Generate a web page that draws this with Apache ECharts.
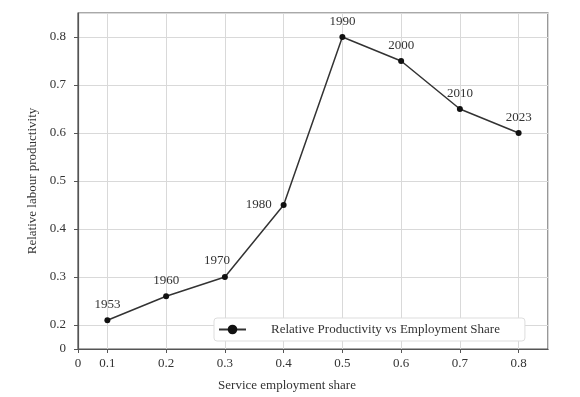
<!DOCTYPE html>
<html>
<head>
<meta charset="utf-8">
<script src="https://cdn.jsdelivr.net/npm/echarts@6/dist/echarts.min.js"></script>
<style>
    html, body { margin: 0; padding: 0; background: #fff; }
    #main { width: 580px; height: 397px; }
</style>
</head>
<body>
<div id="main"></div>
<script>
var years = ['1953', '1960', '1970', '1980', '1990', '2000', '2010', '2023'];
var employmentShare = [0.1, 0.2, 0.3, 0.4, 0.5, 0.6, 0.7, 0.8];
var relativeProductivity = [0.21, 0.26, 0.30, 0.45, 0.80, 0.75, 0.65, 0.60];

// 部分年份标签位置单独调整
var labelTweak = {
    '1970': { position: 'top', offset: [-8, -1] },
    '1980': { position: 'left', distance: 9 }
};

var font = 'Liberation Serif';

var seriesData = [];
years.forEach(function (y, i) {
    var item = { value: [employmentShare[i], relativeProductivity[i]], name: y };
    if (labelTweak[y]) {
        item.label = labelTweak[y];
    }
    seriesData.push(item);
});

// 坐标轴起点显示为 0，终点不显示
function tickLabel(lo, hi) {
    return function (v) {
        if (Math.abs(v - lo) < 1e-6) return '0';
        if (Math.abs(v - hi) < 1e-6) return '';
        return v.toFixed(1);
    };
}

var myChart = echarts.init(document.getElementById('main'));

var option = {
    animation: false,
    textStyle: { fontFamily: font },
    grid: {
        left: 78,
        right: 32,
        top: 13,
        bottom: 45,
        show: true,
        borderColor: '#555',
        borderWidth: 1.2,
        backgroundColor: 'transparent'
    },
    legend: {
        left: 214,
        top: 318,
        padding: [5, 25, 5, 4],
        backgroundColor: '#fff',
        borderColor: '#ddd',
        borderWidth: 1,
        borderRadius: 3,
        itemWidth: 27,
        itemHeight: 12,
        textStyle: {
            fontFamily: font,
            fontSize: 13,
            color: '#333',
            padding: [0, 0, 0, 20]
        },
        data: ['Relative Productivity vs Employment Share']
    },
    xAxis: {
        type: 'value',
        min: 0.05,
        max: 0.85,
        minInterval: 0.1,
        maxInterval: 0.1,
        name: 'Service employment share',
        nameLocation: 'middle',
        nameGap: 30,
        nameTextStyle: { fontFamily: font, fontSize: 13, color: '#333', padding: [0, 52, 0, 0] },
        axisLine: { lineStyle: { color: '#555', width: 1.2 } },
        axisTick: { show: true, length: 4, lineStyle: { color: '#555' } },
        axisLabel: {
            margin: 8,
            fontFamily: font,
            fontSize: 13,
            color: '#333',
            showMaxLabel: false,
            formatter: tickLabel(0.05, 0.85)
        },
        splitLine: { show: true, lineStyle: { color: '#d9d9d9', width: 1 } }
    },
    yAxis: {
        type: 'value',
        min: 0.15,
        max: 0.85,
        minInterval: 0.1,
        maxInterval: 0.1,
        name: 'Relative labour productivity',
        nameLocation: 'middle',
        nameGap: 35,
        nameTextStyle: { fontFamily: font, fontSize: 13, color: '#333' },
        axisLine: { show: true, lineStyle: { color: '#555', width: 1.2 } },
        axisTick: { show: true, length: 4, lineStyle: { color: '#555' } },
        axisLabel: {
            margin: 12,
            fontFamily: font,
            fontSize: 13,
            color: '#333',
            showMaxLabel: false,
            formatter: tickLabel(0.15, 0.85)
        },
        splitLine: { show: true, lineStyle: { color: '#d9d9d9', width: 1 } }
    },
    series: [
        {
            name: 'Relative Productivity vs Employment Share',
            type: 'line',
            symbol: 'circle',
            symbolSize: 6,
            itemStyle: { color: '#111' },
            lineStyle: { color: '#333', width: 1.5 },
            label: {
                show: true,
                position: 'top',
                distance: 6,
                fontFamily: font,
                fontSize: 13,
                color: '#333',
                formatter: function (p) { return p.name; }
            },
            data: seriesData
        }
    ]
};

myChart.setOption(option, true);
</script>
</body>
</html>
